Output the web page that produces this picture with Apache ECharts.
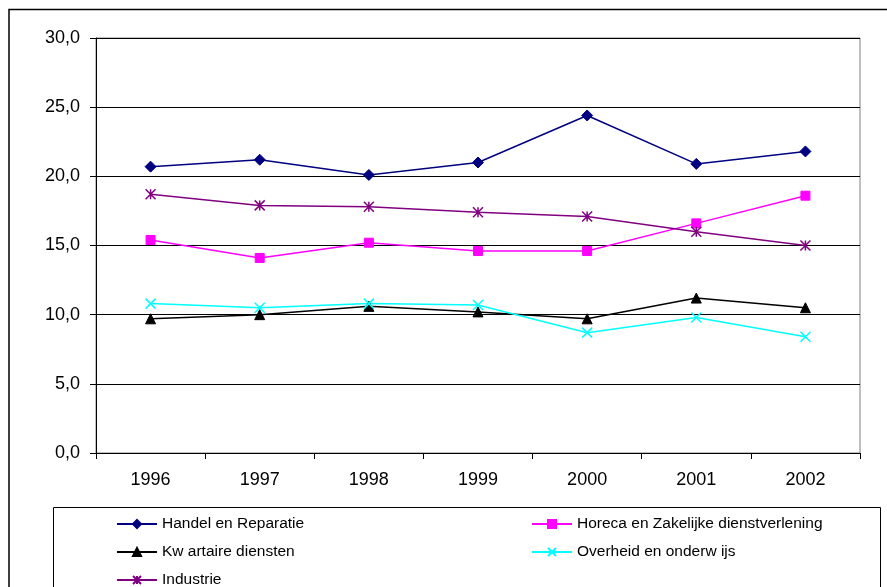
<!DOCTYPE html>
<html>
<head>
<meta charset="utf-8">
<script src="https://cdn.jsdelivr.net/npm/echarts@6/dist/echarts.min.js"></script>
<style>
  html, body { margin: 0; padding: 0; background: #fff; }
  #chart { width: 887px; height: 587px; }
</style>
</head>
<body>
<div id="chart"></div>
<script>
// years on the x axis
const years = ['1996', '1997', '1998', '1999', '2000', '2001', '2002']

// series values
const handel = [20.7, 21.2, 20.1, 21.0, 24.4, 20.9, 21.8]
const horeca = [15.4, 14.1, 15.2, 14.6, 14.6, 16.6, 18.6]
const kwartaire = [9.7, 10.0, 10.6, 10.2, 9.7, 11.2, 10.5]
const overheid = [10.8, 10.5, 10.8, 10.7, 8.7, 9.8, 8.4]
const industrie = [18.7, 17.9, 17.8, 17.4, 17.1, 16.0, 15.0]

const names = [
  'Handel en Reparatie',
  'Horeca en Zakelijke dienstverlening',
  'Kw artaire diensten',
  'Overheid en onderw ijs',
  'Industrie'
]

const font = 'Liberation Sans, Arial, sans-serif'

function makeSeries(name, data, color, symbol, size) {
  return {
    name: name,
    type: 'line',
    data: data,
    symbol: symbol,
    symbolSize: size,
    showSymbol: true,
    lineStyle: { color: color, width: 1.5 },
    itemStyle: { color: color, borderColor: color, borderWidth: 1 }
  }
}

const crossPath = 'path://M0,0L10,10M10,0L0,10'
const starPath = 'path://M0,0L10,10M10,0L0,10M5,0L5,10'

const series = [
  makeSeries(names[0], handel, '#000080', 'diamond', 11),
  makeSeries(names[1], horeca, '#FF00FF', 'rect', 9),
  makeSeries(names[2], kwartaire, '#000000', 'triangle', 10),
  makeSeries(names[3], overheid, '#00FFFF', crossPath, 10),
  makeSeries(names[4], industrie, '#800080', starPath, 10)
]
// open paths: draw with stroke only
series[3].itemStyle = { color: 'none', borderColor: '#00FFFF', borderWidth: 1.5 }
series[4].itemStyle = { color: 'none', borderColor: '#800080', borderWidth: 1.5 }

const legendText = { color: '#000', fontSize: 15.5, fontFamily: font }

// one legend per entry, laid out like the boxed key of the original
function legendAt(name, left, top) {
  return {
    left: left,
    top: top,
    padding: 0,
    itemWidth: 40,
    itemHeight: 10,
    textStyle: legendText,
    data: [name]
  }
}

const chart = echarts.init(document.getElementById('chart'))
chart.setOption({
  animation: false,
  backgroundColor: '#fff',
  grid: {
    left: 96,
    right: 27,
    top: 38,
    bottom: 134,
    show: true,
    borderColor: '#808080',
    borderWidth: 1
  },
  graphic: [
    {
      type: 'rect',
      shape: { x: 9, y: 9.5, width: 900, height: 600 },
      style: { fill: 'none', stroke: '#000', lineWidth: 1.5 },
      z: 100
    },
    {
      type: 'rect',
      shape: { x: 53.5, y: 507.5, width: 827, height: 100 },
      style: { fill: 'none', stroke: '#000', lineWidth: 1 },
      z: 100
    }
  ],
  legend: [
    legendAt(names[0], 116, 516),
    legendAt(names[2], 116, 544),
    legendAt(names[4], 116, 572),
    legendAt(names[1], 531, 516),
    legendAt(names[3], 531, 544)
  ],
  xAxis: {
    type: 'category',
    data: years,
    boundaryGap: true,
    axisLine: { lineStyle: { color: '#000', width: 1 } },
    axisTick: { show: true, length: 6, lineStyle: { color: '#000' } },
    axisLabel: { color: '#000', fontSize: 18, fontFamily: font, margin: 18 }
  },
  yAxis: {
    type: 'value',
    min: 0,
    max: 30,
    interval: 5,
    axisLine: { show: true, lineStyle: { color: '#000', width: 1 } },
    axisTick: { show: true, length: 6, lineStyle: { color: '#000' } },
    axisLabel: {
      color: '#000',
      fontSize: 18,
      fontFamily: font,
      margin: 16,
      formatter: v => v.toFixed(1).replace('.', ',')
    },
    splitLine: { lineStyle: { color: '#000', width: 1 } }
  },
  series: series
})
</script>
</body>
</html>
